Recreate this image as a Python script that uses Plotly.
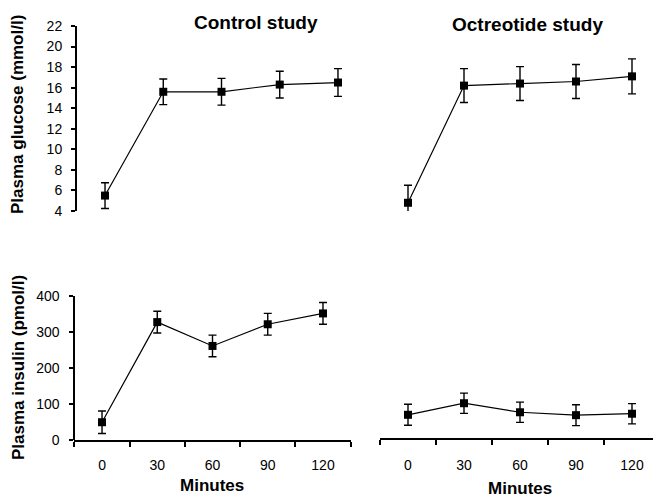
import plotly.graph_objects as go

# Page body has an 8px margin, so the figure is drawn smaller and offset.
OFF = 8
W, H = 661 - OFF, 498 - OFF

minutes = [0, 30, 60, 90, 120]
minute_labels = [str(m) for m in minutes]

ctrl_glucose = [5.5, 15.6, 15.6, 16.3, 16.5]
ctrl_glucose_err = [1.25, 1.25, 1.3, 1.3, 1.35]
oct_glucose = [4.8, 16.2, 16.4, 16.6, 17.1]
oct_glucose_err = [1.7, 1.65, 1.65, 1.65, 1.7]
ctrl_insulin = [50, 327, 261, 321, 351]
ctrl_insulin_err = [31, 30, 30, 30, 30]
oct_insulin = [65, 97, 72, 64, 68]
oct_insulin_err = [29, 28, 28, 29, 28]

FONT = "Liberation Sans, Arial, sans-serif"


def fx(a):
    return min(max((a - OFF) / W, 0), 1)


def fy(a):
    return min(max(1 - (a - OFF) / H, 0), 1)


def px_x(a, b):
    return [fx(a), fx(b)]


def px_y(top, bottom):
    return [fy(bottom), fy(top)]


fig = go.Figure()


def add_series(y, err, xa, ya):
    fig.add_trace(go.Scatter(
        x=minute_labels, y=y, xaxis=xa, yaxis=ya, mode="lines+markers",
        line=dict(color="black", width=1.2),
        marker=dict(symbol="square", size=8, color="black"),
        error_y=dict(type="data", array=err, visible=True, color="black",
                     thickness=1.4, width=4),
        showlegend=False, cliponaxis=False,
    ))


add_series(ctrl_glucose, ctrl_glucose_err, "x", "y")
add_series(oct_glucose, oct_glucose_err, "x2", "y2")
add_series(ctrl_insulin, ctrl_insulin_err, "x3", "y3")
add_series(oct_insulin, oct_insulin_err, "x4", "y4")

tickfont = dict(family=FONT, size=14, color="black")

hidden_x = dict(type="category", range=[-0.5, 4.5], visible=False, automargin=False)
fig.update_layout(
    template="none",
    width=W, height=H,
    margin=dict(l=0, r=0, t=0, b=0, pad=0),
    paper_bgcolor="white", plot_bgcolor="white",
    xaxis=dict(hidden_x, domain=px_x(75.9, 367.1), anchor="y"),
    xaxis2=dict(hidden_x, domain=px_x(380, 660), anchor="y2"),
    xaxis3=dict(type="category", range=[-0.5, 4.5], domain=px_x(74.4, 350.6),
                anchor="y3", showline=True, linecolor="black", linewidth=2,
                ticks="outside", tickson="boundaries", ticklen=5, tickwidth=2,
                tickcolor="black", tickfont=tickfont, showgrid=False,
                zeroline=False, ticklabelstandoff=11, automargin=False),
    xaxis4=dict(type="category", range=[-0.5, 4.5], domain=px_x(380, 660),
                anchor="y4", showline=True, linecolor="black", linewidth=2,
                ticks="outside", tickson="boundaries", ticklen=5, tickwidth=2,
                tickcolor="black", tickfont=tickfont, showgrid=False,
                zeroline=False, ticklabelstandoff=13, automargin=False),
    yaxis=dict(range=[4, 22], domain=px_y(26, 211), anchor="free", position=fx(76),
               dtick=2, showline=True, linecolor="black", linewidth=2,
               ticks="outside", ticklen=4, tickwidth=2, tickcolor="black",
               tickfont=tickfont, showgrid=False, zeroline=False,
               ticklabelstandoff=6, automargin=False),
    yaxis2=dict(range=[4, 22], domain=px_y(26, 211), anchor="x2", visible=False,
                automargin=False),
    yaxis3=dict(range=[0, 400], domain=px_y(295.7, 440.3), anchor="free",
                position=fx(74.4), dtick=100, showline=True, linecolor="black",
                linewidth=2, ticks="outside", ticklen=4, tickwidth=2,
                tickcolor="black", tickfont=tickfont, showgrid=False,
                zeroline=False, ticklabelstandoff=7, automargin=False),
    yaxis4=dict(range=[0, 400], domain=px_y(293.7, 438.3), anchor="x4", visible=False,
                automargin=False),
)

ann_font_t = dict(family=FONT, size=19, color="black")
ann_font_a = dict(family=FONT, size=17, color="black")


def ann(text, x, y, font, angle=0):
    fig.add_annotation(text="<b>%s</b>" % text, x=fx(x), y=fy(y),
                       xref="paper", yref="paper", showarrow=False,
                       font=font, textangle=angle, xanchor="center",
                       yanchor="middle")


ann("Control study", 256, 22, ann_font_t)
ann("Octreotide study", 527, 25, ann_font_t)
ann("Plasma glucose (mmol/l)", 18, 115, ann_font_a, -90)
ann("Plasma insulin (pmol/l)", 18, 368, ann_font_a, -90)
ann("Minutes", 212, 485, ann_font_a)
ann("Minutes", 520, 488, ann_font_a)

fig.write_html("out.html")
